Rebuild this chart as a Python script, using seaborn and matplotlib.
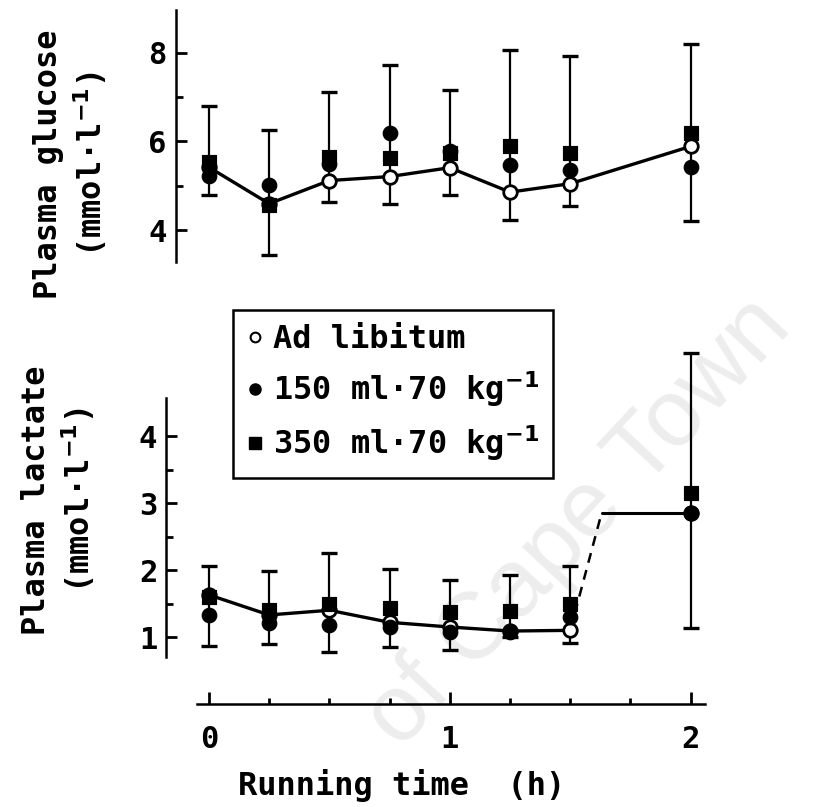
import numpy as np
import seaborn as sns
import matplotlib.pyplot as plt
from matplotlib.lines import Line2D

# sampling times (h)
time = [0, 0.25, 0.5, 0.75, 1.0, 1.25, 1.5, 2.0]

# plasma glucose (mmol/l)
glucose_adlib = [5.42, 4.60, 5.12, 5.21, 5.41, 4.86, 5.05, 5.89]
glucose_150 = [5.23, 5.03, 5.50, 6.20, 5.78, 5.46, 5.35, 5.42]
glucose_350 = [5.53, 4.56, 5.64, 5.62, 5.73, 5.89, 5.74, 6.20]
glucose_err_hi = [6.79, 6.27, 7.12, 7.73, 7.17, 8.06, 7.93, 8.20]
glucose_err_lo = [4.79, 3.44, 4.63, 4.60, 4.79, 4.24, 4.54, 4.20]

# plasma lactate (mmol/l)
lactate_adlib = [1.63, 1.33, 1.40, 1.22, 1.15, 1.09, 1.10, 2.85]
lactate_150 = [1.33, 1.21, 1.18, 1.15, 1.08, 1.08, 1.30, 2.85]
lactate_350 = [1.60, 1.40, 1.50, 1.43, 1.37, 1.39, 1.50, 3.15]
lactate_err_hi = [2.06, 1.99, 2.25, 2.01, 1.85, 1.92, 2.06, 5.24]
lactate_err_lo = [0.86, 0.90, 0.77, 0.85, 0.80, 1.00, 0.91, 1.13]
# ad libitum lactate trace after 1.5 h: dashed rise, then flat to 2 h
lactate_link_time = [1.5, 1.63, 2.0]
lactate_link = [1.10, 2.85, 2.85]

labels = ["Ad libitum", "150 ml·70 kg$^{-1}$", "350 ml·70 kg$^{-1}$"]

sns.set_style("ticks")
plt.rcParams['font.family'] = ['DejaVu Sans Mono', 'DejaVu Sans']
plt.rcParams['font.weight'] = 'bold'
plt.rcParams['axes.labelweight'] = 'bold'
plt.rcParams['mathtext.default'] = 'bf'
for k in ('text.color', 'axes.labelcolor', 'xtick.color', 'ytick.color', 'axes.edgecolor'):
    plt.rcParams[k] = 'black'

fig = plt.figure(figsize=(8.37, 8.07), dpi=100)
ax_g = fig.add_axes([0.192, 0.675, 0.662, 0.312])
ax_l = fig.add_axes([0.192, 0.1276, 0.662, 0.444])


def draw_panel(ax, adlib, f150, f350, hi, lo, n_line):
    hi = np.array(hi)
    lo = np.array(lo)
    ax.errorbar(time, (hi + lo) / 2, yerr=(hi - lo) / 2, fmt='none', ecolor='black',
                elinewidth=1.6, capsize=6, capthick=2.4, zorder=1)
    sns.lineplot(x=time[:n_line], y=adlib[:n_line], ax=ax, color='black', lw=2.4, zorder=2)
    sns.scatterplot(x=time, y=adlib, ax=ax, marker='o', s=95, color='white',
                    edgecolor='black', linewidth=2, zorder=3)
    sns.scatterplot(x=time, y=f150, ax=ax, marker='o', s=110, color='black',
                    edgecolor='black', zorder=4)
    sns.scatterplot(x=time, y=f350, ax=ax, marker='s', s=110, color='black',
                    edgecolor='black', zorder=5)
    ax.set_facecolor('none')


draw_panel(ax_g, glucose_adlib, glucose_150, glucose_350, glucose_err_hi, glucose_err_lo, 8)
draw_panel(ax_l, lactate_adlib, lactate_150, lactate_350, lactate_err_hi, lactate_err_lo, 7)
ax_l.plot(lactate_link_time[:2], lactate_link[:2], color='black', lw=1.8, ls=(0, (4, 3)), zorder=2)
ax_l.plot(lactate_link_time[1:], lactate_link[1:], color='black', lw=2.2, zorder=2)

# glucose panel axes
ax_g.set_xlim(-0.2, 2.1)
ax_g.set_ylim(3.28, 8.95)
sns.despine(ax=ax_g, bottom=True)
ax_g.set_xticks([])
ax_g.spines['left'].set_position(('data', -0.135))
ax_g.spines['left'].set_linewidth(1.8)
ax_g.set_yticks([4, 6, 8])
ax_g.set_yticks([5, 7], minor=True)
ax_g.tick_params(axis='y', which='major', direction='in', length=8, width=2, labelsize=22, pad=7)
ax_g.tick_params(axis='y', which='minor', direction='in', length=5, width=2)
ax_g.set_ylabel("Plasma glucose\n(mmol·l$^{-1}$)", fontsize=23, linespacing=1.25)
ax_g.yaxis.set_label_coords(-0.093, 0.39)

# lactate panel axes
ax_l.set_xlim(-0.2, 2.1)
ax_l.set_ylim(0, 5.35)
sns.despine(ax=ax_l)
ax_l.spines['left'].set_bounds(0.7, 4.57)
ax_l.spines['left'].set_position(('data', -0.18))
ax_l.spines['bottom'].set_bounds(-0.05, 2.06)
for s in ('left', 'bottom'):
    ax_l.spines[s].set_linewidth(1.8)
ax_l.set_yticks([1, 2, 3, 4])
ax_l.set_yticks([1.5, 2.5, 3.5], minor=True)
ax_l.set_xticks([0, 1, 2])
ax_l.set_xticks([0.25, 0.5, 0.75, 1.25, 1.5, 1.75], minor=True)
ax_l.tick_params(axis='y', which='major', direction='in', length=8, width=2, labelsize=22, pad=6)
ax_l.tick_params(axis='y', which='minor', direction='in', length=5, width=2)
ax_l.tick_params(axis='x', which='major', direction='in', length=9, width=2, labelsize=22, pad=15)
ax_l.tick_params(axis='x', which='minor', direction='in', length=4, width=2)
ax_l.set_ylabel("Plasma lactate\n(mmol·l$^{-1}$)", fontsize=23, linespacing=1.25)
ax_l.yaxis.set_label_coords(-0.115, 0.57)
ax_l.set_xlabel("Running time  (h)", fontsize=23)
ax_l.xaxis.set_label_coords(0.434, -0.18)

handles = [
    Line2D([], [], ls='none', marker='o', mfc='white', mec='black', mew=1.5, ms=7),
    Line2D([], [], ls='none', marker='o', mfc='black', mec='black', ms=8),
    Line2D([], [], ls='none', marker='s', mfc='black', mec='black', ms=8),
]
leg = fig.legend(handles, labels, loc='upper left', bbox_to_anchor=(0.278, 0.616),
                 frameon=True, fancybox=False, edgecolor='black', framealpha=1,
                 fontsize=23, handlelength=0.5, handletextpad=0.3, borderpad=0.45,
                 labelspacing=0.45, borderaxespad=0)
leg.get_frame().set_linewidth(1.8)

fig.text(0.478, 0.07, "of Cape Town", family='Liberation Sans', weight='normal',
         fontsize=68, color='#ededed', rotation=47, ha='left', va='baseline',
         rotation_mode='anchor', zorder=-1)

fig.savefig('out.png', dpi=100)
